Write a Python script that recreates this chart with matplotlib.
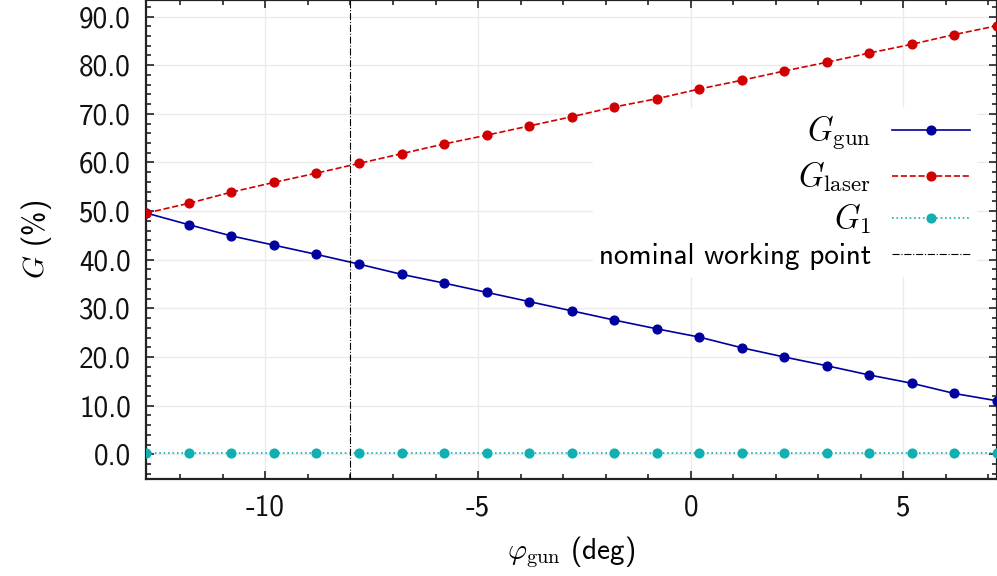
import matplotlib as mpl
mpl.use('Agg')
import matplotlib.pyplot as plt
from matplotlib.ticker import FormatStrFormatter, MultipleLocator

# data
phi_gun = [-12.8, -11.8, -10.8, -9.8, -8.8, -7.8, -6.8, -5.8, -4.8, -3.8, -2.8,
           -1.8, -0.8, 0.2, 1.2, 2.2, 3.2, 4.2, 5.2, 6.2, 7.2]
g_gun = [49.6, 47.2, 44.9, 43.0, 41.1, 39.1, 37.0, 35.2, 33.3, 31.4, 29.5,
         27.6, 25.8, 24.1, 21.9, 20.0, 18.2, 16.3, 14.6, 12.5, 11.0]
g_laser = [49.6, 51.6, 53.9, 55.9, 57.8, 59.8, 61.8, 63.8, 65.6, 67.5, 69.4,
           71.4, 73.1, 75.1, 76.9, 78.8, 80.6, 82.5, 84.3, 86.3, 88.1]
g_1 = [0.3] * 21
working_point = -8.0

plt.rcParams['font.family'] = ['cmss10', 'DejaVu Sans']
plt.rcParams['mathtext.fontset'] = 'cm'
plt.rcParams['axes.unicode_minus'] = False
plt.rcParams['axes.formatter.use_mathtext'] = False


def figure_setup():
    fig = plt.figure(figsize=(9.97, 5.76), dpi=100)
    ax = fig.add_axes([146.3 / 997, (576 - 479.3) / 576, 1 - 146.3 / 997, 479.3 / 576])
    return fig, ax


fig, ax = figure_setup()

ax.plot(phi_gun, g_gun, '-o', color='#0000a0', lw=1.2, ms=6.3, label=r'$G_{\rm gun}$', zorder=3)
ax.plot(phi_gun, g_laser, '--o', color='#d00000', lw=1.2, ms=6.3, label=r'$G_{\rm laser}$', zorder=3)
ax.plot(phi_gun, g_1, ':o', color='#10b0b0', lw=1.2, ms=6.3, label=r'$G_1$', zorder=3)
ax.axvline(working_point, color='black', lw=0.8, ls='-.', label='nominal working point', zorder=3)

ax.set_xlim(-12.8, 7.2)
ax.set_ylim(-5.14, 93.4)
ax.xaxis.set_major_locator(MultipleLocator(5))
ax.xaxis.set_minor_locator(MultipleLocator(1))
ax.yaxis.set_major_locator(MultipleLocator(10))
ax.yaxis.set_minor_locator(MultipleLocator(2))
ax.yaxis.set_major_formatter(FormatStrFormatter('%.1f'))

ax.tick_params(which='both', direction='in', top=True, right=True, colors='#222222',
               labelsize=21, width=1.2)
ax.tick_params(which='major', length=6, pad=11)
ax.tick_params(which='minor', length=3.5)
ax.tick_params(axis='both', labelcolor='#111111')
for side in ['left', 'bottom', 'top', 'right']:
    ax.spines[side].set_linewidth(1.6)
    ax.spines[side].set_color('#222222')

ax.grid(which='major', color='#ebebeb', lw=1.0)
ax.set_axisbelow(True)

ax.set_xlabel(r'$\varphi_{\rm gun}$ (deg)', fontsize=21, labelpad=9)
ax.set_ylabel(r'$G$ (%)', fontsize=21, labelpad=18)

leg = ax.legend(loc='lower right', bbox_to_anchor=(0.9927, 0.394), fontsize=21,
                markerfirst=False, handlelength=2.7, handletextpad=0.7, labelspacing=0.25,
                frameon=True, framealpha=1.0, edgecolor='white', fancybox=False,
                borderpad=0.2)
for t in leg.get_texts()[:3]:
    t.set_fontsize(23.5)
leg.set_zorder(2)

fig.savefig('out.png', dpi=100)
plt.close()
